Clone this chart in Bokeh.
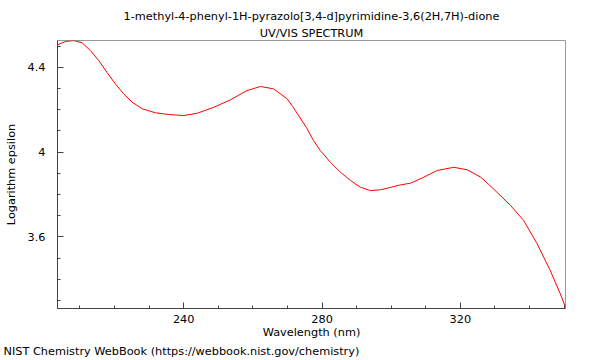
from bokeh.plotting import figure
from bokeh.models import Range1d, FixedTicker, CustomJSTickFormatter, Title
from bokeh.embed import file_html
from bokeh.resources import INLINE

# ---- data ----
wavelength_nm = [203.5, 205.8, 208.2, 210.6, 213.0, 215.4, 217.8, 220.2, 222.6, 225.1,
                 228.0, 231.8, 235.7, 240.0, 243.9, 248.7, 253.5, 258.3, 262.2, 266.0,
                 269.9, 271.5, 273.5, 275.5, 277.5, 279.5, 282.4, 285.3, 288.2, 291.1,
                 294.0, 296.9, 298.8, 302.7, 305.6, 309.4, 313.3, 318.1, 322.0, 325.9,
                 328.2, 330.6, 334.5, 338.3, 342.2, 346.0, 348.9, 350.4]
log_epsilon = [4.506, 4.521, 4.526, 4.515, 4.479, 4.432, 4.376, 4.322, 4.275, 4.235,
               4.204, 4.185, 4.177, 4.172, 4.183, 4.211, 4.246, 4.290, 4.309, 4.298,
               4.251, 4.215, 4.165, 4.115, 4.055, 4.007, 3.952, 3.905, 3.866, 3.834,
               3.818, 3.822, 3.829, 3.845, 3.853, 3.881, 3.913, 3.928, 3.916, 3.881,
               3.847, 3.810, 3.748, 3.677, 3.567, 3.441, 3.331, 3.268]

x_major_ticks = [240, 280, 320]
x_minor_ticks = [210, 220, 230, 250, 260, 270, 290, 300, 310, 330, 340, 350]
y_major_ticks = [3.6, 4.0, 4.4]
y_minor_ticks = [3.3, 3.4, 3.5, 3.7, 3.8, 3.9, 4.1, 4.2, 4.3, 4.5]

title_text = "1-methyl-4-phenyl-1H-pyrazolo[3,4-d]pyrimidine-3,6(2H,7H)-dione"
subtitle_text = "UV/VIS SPECTRUM"
x_label = "Wavelength (nm)"
y_label = "Logarithm epsilon"
footer_text = "NIST Chemistry WebBook (https://webbook.nist.gov/chemistry)"

FONT = "DejaVu Sans"
FS = "11.3px"

p = figure(width=600, height=360, output_backend="svg", toolbar_location=None,
           x_range=Range1d(203.5, 350.4), y_range=Range1d(3.262, 4.526),
           min_border_left=57, min_border_right=35, min_border_top=40,
           min_border_bottom=52, background_fill_color="white",
           border_fill_color="white")

p.line(wavelength_nm, log_epsilon, line_color="#ff0000", line_width=1)

p.grid.visible = False
p.outline_line_color = "#999999"
p.outline_line_width = 1

# titles (the added Title sits closer to the frame)
p.title.text = title_text
p.title.align = "center"
p.title.text_font = FONT
p.title.text_font_size = FS
p.title.text_font_style = "normal"
p.title.text_color = "black"
p.title.standoff = 2
sub_title = Title(text=subtitle_text, align="center", text_font=FONT,
                  text_font_size=FS, text_font_style="normal",
                  text_color="black", standoff=2)
p.add_layout(sub_title, "above")

for ax in (p.xaxis[0], p.yaxis[0]):
    ax.axis_line_color = "#444444"
    ax.major_tick_line_color = "#444444"
    ax.minor_tick_line_color = "#444444"
    ax.major_tick_in = 6
    ax.major_tick_out = 0
    ax.minor_tick_in = 3
    ax.minor_tick_out = 0
    ax.major_label_text_font = FONT
    ax.major_label_text_font_size = FS
    ax.major_label_text_color = "black"
    ax.axis_label_text_font = FONT
    ax.axis_label_text_font_size = FS
    ax.axis_label_text_font_style = "normal"
    ax.axis_label_text_color = "black"

p.xaxis[0].ticker = FixedTicker(ticks=x_major_ticks, minor_ticks=x_minor_ticks)
p.yaxis[0].ticker = FixedTicker(ticks=y_major_ticks, minor_ticks=y_minor_ticks)
p.yaxis[0].formatter = CustomJSTickFormatter(code="return String(Math.round(tick*10)/10)")
p.xaxis[0].axis_label = x_label
p.yaxis[0].axis_label = y_label
p.xaxis[0].major_label_standoff = 6
p.yaxis[0].major_label_standoff = 12
p.xaxis[0].axis_label_standoff = 0
p.yaxis[0].axis_label_standoff = 7

footer = Title(text=footer_text, align="left", text_font=FONT, text_font_size=FS,
               text_font_style="normal", text_color="black", standoff=2, offset=-54)
p.add_layout(footer, "below")

open("out.html", "w").write(file_html(p, INLINE))
